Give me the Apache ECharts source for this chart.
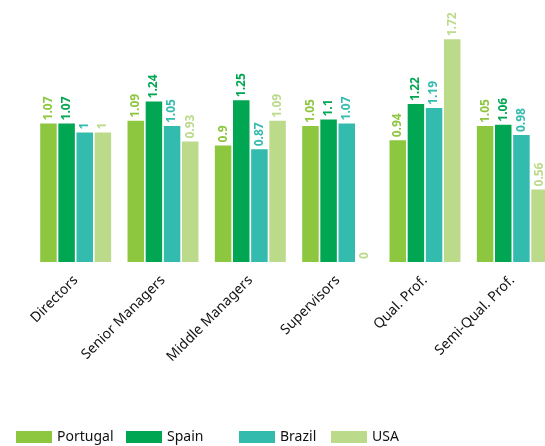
<!DOCTYPE html>
<html>
<head>
<meta charset="utf-8">
<script src="https://cdn.jsdelivr.net/npm/echarts@6/dist/echarts.min.js"></script>
<style>
  html, body { margin: 0; padding: 0; background: #fff; }
  #chart { width: 545px; height: 446px; }
</style>
</head>
<body>
<div id="chart"></div>
<script>
// categories and values
const categories = ['Directors', 'Senior Managers', 'Middle Managers', 'Supervisors', 'Qual. Prof.', 'Semi-Qual. Prof.'];
const portugal = [1.07, 1.09, 0.9, 1.05, 0.94, 1.05];
const spain = [1.07, 1.24, 1.25, 1.1, 1.22, 1.06];
const brazil = [1, 1.05, 0.87, 1.07, 1.19, 0.98];
const usa = [1, 0.93, 1.09, 0, 1.72, 0.56];

const seriesNames = ['Portugal', 'Spain', 'Brazil', 'USA'];
const colors = ['#8dc63f', '#00a651', '#33bbad', '#bbdb8b'];
// the legend entries are spaced unevenly in the original
const legendLefts = [16, 126, 239, 331];

const chart = echarts.init(document.getElementById('chart'));

function makeSeries(name, data, color) {
    return {
        name: name,
        type: 'bar',
        data: data,
        barWidth: 16.5,
        barGap: '10%',
        itemStyle: { color: color },
        label: {
            show: true,
            position: 'top',
            rotate: 90,
            align: 'left',
            verticalAlign: 'middle',
            distance: 3,
            color: color,
            fontFamily: 'Noto Sans',
            fontWeight: 'bold',
            fontSize: 12
        }
    };
}

const option = {
    backgroundColor: '#fff',
    animation: false,
    color: colors,
    grid: { left: 32, width: 524, top: 3, height: 259, outerBoundsMode: 'none', containLabel: false },
    legend: seriesNames.map((n, i) => ({
        left: legendLefts[i],
        bottom: 2,
        padding: 0,
        itemWidth: 36,
        itemHeight: 12,
        icon: 'rect',
        data: [n],
        textStyle: { color: '#111', fontSize: 14, fontFamily: 'Noto Sans' }
    })),
    xAxis: {
        type: 'category',
        data: categories,
        axisLine: { show: false },
        axisTick: { show: false },
        axisLabel: {
            rotate: 45,
            interval: 0,
            margin: 16,
            color: '#111',
            fontSize: 14,
            fontFamily: 'Noto Sans'
        }
    },
    yAxis: {
        type: 'value',
        min: 0,
        max: 2,
        show: false,
        splitLine: { show: false }
    },
    series: [
        makeSeries(seriesNames[0], portugal, colors[0]),
        makeSeries(seriesNames[1], spain, colors[1]),
        makeSeries(seriesNames[2], brazil, colors[2]),
        makeSeries(seriesNames[3], usa, colors[3])
    ]
};

chart.setOption(option);
</script>
</body>
</html>
